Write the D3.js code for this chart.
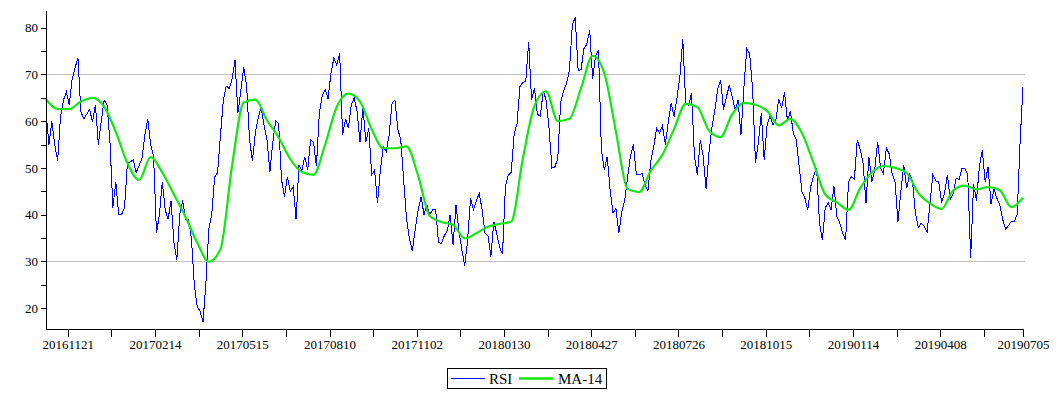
<!DOCTYPE html>
<html>
<head>
<meta charset="utf-8">
<script src="https://cdn.jsdelivr.net/npm/d3@7"></script>
<style>
  body { margin: 0; background: #fff; }
  text { font-family: "Liberation Serif", "Times New Roman", serif; }
</style>
</head>
<body>
<div id="chart"></div>
<script>
// RSI, read every 2nd trading day (day 0 .. day 672)
var rsi = [
  62,55,60,55,51.5,61,64.5,66.3,63.5,69,71.5,73.5,62,60.5,61.5,62.5,59.8,63.5,55,60,64.5,63.5,55.5,41.5,47,40,40,41.5,51,51.3,51.7,49,50.5,
  52,57,60.5,55,52.5,36,40,47,41,39,43,34,30.3,40,43,39,39,35,25,20.3,19.3,17,25.5,37,40,48,49,57,64.5,67.5,67,69,73,61.7,
  66.5,71.5,67.5,56,51.5,57.5,60.8,63,59,56,49.2,55.5,60,59.5,47.5,43.8,48.1,45,46,39,50.5,49.5,52.4,49.5,56,55.5,50.3,61.7,65.5,66.8,64.8,70.3,73.5,72,74.5,
  57,60.5,58.5,63.5,65,62,55.5,63,55.5,58.5,48.5,49.5,42.5,49.5,54.5,53.5,57,63.8,64.5,58.3,56,47.5,39,34.8,32.2,37,41,43.8,40,42,40,41,41,34,
  33.8,35.5,36.5,40,33.5,42,36.5,32.5,29,34.5,43.5,41,43,44.5,41,36,35.5,31,38.5,36,33,31.5,46,48.5,49,57.2,59.5,67.4,68.3,68.6,77,64.5,67,61.5,61,
  66.5,64.5,58.5,50,50.2,52,64,66.5,68,70.8,80.5,82.3,70.9,71,75.5,76.5,79.5,69,74,75.3,54,49.5,52.4,45.3,40.3,41.3,36,40.5,43,48,52.5,55,48.7,48.5,
  48.8,46.5,45,51.5,54.5,58.5,57.5,59,55,59.8,63.8,61,65,69.5,77.5,64,63.3,66,52.5,48.5,56,52.5,45.5,53.2,58.5,62.2,66.8,68.8,62.5,65.2,67.7,65.2,62.4,64.5,
  57,67,75.6,74.4,67,51,55.5,61.7,51.7,59.3,61.2,59.2,60.2,64.7,62.8,66.2,60,62.2,57.4,56.1,50.5,44.9,43.5,41,46,48.3,50,38.4,34.5,41.5,42.5,41,46,39.5,38.2,
  36,34.6,47,48.1,47.5,56,54,51,42.4,52.4,47,49.5,55.6,50,48.8,54.2,53,48.8,47,38.5,45,50.6,45.6,48.6,47.2,40.3,37.2,38.2,37.5,36.2,42.4,48.5,47.2,47,
  42.6,44.5,48.5,43.2,44.5,47.8,47.5,50,49.8,48.5,30.8,46.5,43,50.3,53.8,47,50.2,42.2,45.5,43.5,42.2,39,36.9,37.6,38.6,38.5,40,55.5,67.4
];

// MA-14, read every 8th trading day
var ma14 = [
  64.7,62.6,62.6,64.2,65.0,63.1,57.7,51.0,47.4,52.3,49.0,44.3,39.5,34.0,29.9,32.6,50.5,
  64.0,64.6,60.2,56.5,51.9,49.1,48.5,55.0,63.1,65.9,64.2,58.3,54.2,54.2,54.6,48.3,39.7,
  38.4,37.8,34.9,36.0,37.4,38.0,38.5,52.0,63.3,66.4,60.0,60.5,67.0,74.0,70.3,57.8,45.5,
  44.8,49.4,52.8,58.3,63.7,63.0,58.0,56.6,61.5,63.9,63.5,62.2,59.1,60.5,57.4,51.0,44.3,
  42.6,41.0,45.6,49.0,50.4,50.0,48.9,44.6,42.4,41.2,45.2,46.2,45.4,45.9,45.2,41.6,43.6
];

var lastDay = 672;
var tickLabels = ["20161121","20170214","20170515","20170810","20171102","20180130",
                  "20180427","20180726","20181015","20190114","20190408","20190705"];
var tickDays = [15,75,135,195,255,315,375,435,495,555,615,672];
var minorDays = [45,105,165,225,285,345,405,465,525,585,645];
var yLabels = [20,30,40,50,60,70,80];
var yMinor = [25,35,45,55,65,75];
var gridValues = [30,70];

var width = 1056, height = 400;

var svg = d3.select("#chart")
    .append("svg")
    .attr("width", width)
    .attr("height", height);

svg.append("rect")
    .attr("width", width)
    .attr("height", height)
    .style("fill", "#fff");

var x = d3.scaleLinear()
    .domain([0, lastDay])
    .range([46, 1023]);

var y = d3.scaleLinear()
    .domain([15.5, 83.8])
    .range([329, 10]);

// grid lines at 30 and 70
svg.append("g")
    .selectAll("line")
    .data(gridValues)
    .enter()
    .append("line")
    .attr("x1", 47)
    .attr("x2", 1025)
    .attr("y1", function (d) { return Math.round(y(d)) + 0.5; })
    .attr("y2", function (d) { return Math.round(y(d)) + 0.5; })
    .style("stroke", "#c0c0c0")
    .style("stroke-width", 1)
    .style("shape-rendering", "crispEdges");

// RSI line
var rsiStep = lastDay / (rsi.length - 1);
var rsiLine = d3.line()
    .x(function (d, i) { return x(i * rsiStep); })
    .y(function (d) { return y(d); });

svg.append("path")
    .datum(rsi)
    .attr("d", rsiLine)
    .style("fill", "none")
    .style("stroke", "#0000ff")
    .style("stroke-width", 1)
    .style("shape-rendering", "crispEdges");

// MA-14 line
var maStep = lastDay / (ma14.length - 1);
var maLine = d3.line()
    .x(function (d, i) { return x(i * maStep); })
    .y(function (d) { return y(d); })
    .curve(d3.curveMonotoneX);

svg.append("path")
    .datum(ma14)
    .attr("d", maLine)
    .style("fill", "none")
    .style("stroke", "#10e810")
    .style("stroke-width", 2.2);

// Y axis
svg.append("g")
    .attr("transform", "translate(46,0)")
    .call(d3.axisLeft(y).tickValues(yLabels).tickSize(5).tickSizeOuter(0));

svg.append("g")
    .attr("transform", "translate(46,0)")
    .call(d3.axisLeft(y).tickValues(yMinor).tickSize(5).tickFormat(""))
    .select(".domain").remove();

// X axis
svg.append("g")
    .attr("transform", "translate(0,329)")
    .call(d3.axisBottom(x)
        .tickValues(tickDays)
        .tickFormat(function (d, i) { return tickLabels[i]; })
        .tickSize(8)
        .tickSizeOuter(0));

svg.append("g")
    .attr("transform", "translate(0,329)")
    .call(d3.axisBottom(x).tickValues(minorDays).tickSize(8).tickFormat(""))
    .select(".domain").remove();

svg.selectAll(".tick text")
    .style("font-family", "'Liberation Serif', 'Times New Roman', serif")
    .style("font-size", "13px")
    .style("fill", "#000");

svg.selectAll(".domain, .tick line")
    .style("stroke", "#000")
    .style("shape-rendering", "crispEdges");

// legend
var legend = svg.append("g").attr("class", "legend");

legend.append("rect")
    .attr("x", 447.5)
    .attr("y", 368.5)
    .attr("width", 159)
    .attr("height", 20)
    .style("fill", "#fff")
    .style("stroke", "#000")
    .style("shape-rendering", "crispEdges");

legend.append("line")
    .attr("x1", 451)
    .attr("x2", 485)
    .attr("y1", 378.5)
    .attr("y2", 378.5)
    .style("stroke", "#0000ff")
    .style("stroke-width", 1);

legend.append("text")
    .attr("x", 489)
    .attr("y", 383.5)
    .style("font-size", "15px")
    .text("RSI");

legend.append("line")
    .attr("x1", 519)
    .attr("x2", 553)
    .attr("y1", 378.5)
    .attr("y2", 378.5)
    .style("stroke", "#10e810")
    .style("stroke-width", 2.5);

legend.append("text")
    .attr("x", 558)
    .attr("y", 383.5)
    .style("font-size", "15px")
    .text("MA-14");
</script>
</body>
</html>
